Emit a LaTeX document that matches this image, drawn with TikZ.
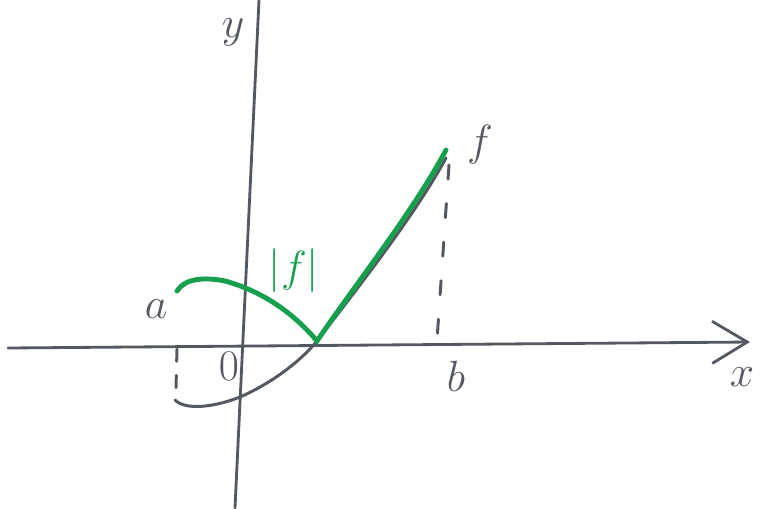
\documentclass[tikz,border=0pt]{standalone}
\usepackage{amsmath,amssymb}
\usepackage{tikz}
\usetikzlibrary{arrows.meta}
\definecolor{pen}{RGB}{84,88,96}
\definecolor{marker}{RGB}{22,160,78}

\begin{document}
\begin{tikzpicture}[x=0.02cm, y=-0.02cm, line cap=round,
	every node/.style={font=\fontsize{26}{30}\selectfont, text=pen},
	axisline/.style={draw=pen, line width=1.6pt},
	fcurve/.style={draw=pen, line width=1.7pt},
	abscurve/.style={draw=marker, line width=2.8pt},
	guide/.style={draw=pen, line width=1.7pt, dash pattern=on 8pt off 14pt}]
	\useasboundingbox[fill=white] (0,0) rectangle (761,508);
	% axes
	\coordinate (xl) at (8,348);
	\coordinate (xr) at (750,342);
	\coordinate (yt) at (259,0);
	\coordinate (yb) at (235,508);
	\draw[axisline, -{Straight Barb[length=20pt, width=24pt, line width=1.6pt]}] (xl) -- (xr);
	\draw[axisline] (yt) -- (yb);
	% labels
	\node (xlbl) at (742,377) {$x$};
	\node (ylbl) at (233,32) {$y$};
	\node (orig) at (229,366) {$0$};
	\node (albl) at (156,309) {$a$};
	\node (blbl) at (456,376) {$b$};
	\node[font=\fontsize{30}{34}\selectfont] (flbl) at (480,145) {$f$};
	\node[text=marker, font=\fontsize{24}{28}\selectfont] (abslbl) at (294,271) {$|f|$};
	% points on the curves
	\coordinate (fa) at (175,400);
	\coordinate (fz) at (317,341);
	\coordinate (fb) at (446,158);
	\coordinate (ga) at (177,291);
	% f
	\draw[fcurve] (fa) .. controls (185,410) and (212,408) .. (240,397)
		.. controls (270,384) and (300,362) .. (fz)
		.. controls (360,285) and (415,215) .. (fb);
	% |f|
	\draw[abscurve] (ga) .. controls (185,278) and (205,277) .. (225,281)
		.. controls (265,292) and (295,315) .. (fz)
		.. controls (357,282) and (413,212) .. (446,150);
	% dashed guides at a and b
	\coordinate (da1) at (177,349);
	\coordinate (da2) at (176,388);
	\coordinate (db1) at (449,165);
	\coordinate (db2) at (437,340);
	\draw[guide, dash pattern=on 7pt off 8pt] (da1) -- (da2);
	\draw[guide] (db1) -- (db2);
\end{tikzpicture}
\end{document}
